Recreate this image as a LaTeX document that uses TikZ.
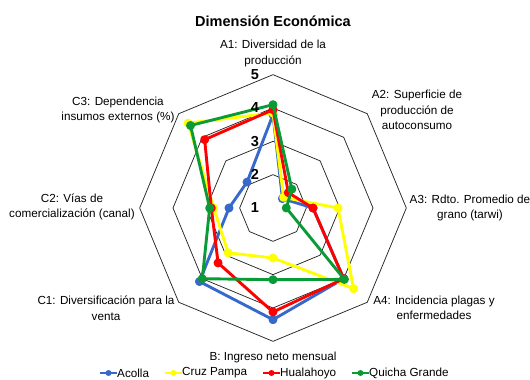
\documentclass[tikz,border=0pt]{standalone}
\usepackage{fontspec}
\setmainfont{Liberation Sans}

\definecolor{acolla}{RGB}{55,105,205}
\definecolor{cruzpampa}{RGB}{255,255,0}
\definecolor{hualahoyo}{RGB}{255,0,0}
\definecolor{quicha}{RGB}{10,155,55}

\begin{document}
\begin{tikzpicture}
	[x=1pt,y=1pt,
	axislabel/.style={font=\fontsize{11.7}{15.5}\selectfont, align=center, inner sep=0pt},
	levnum/.style={font=\fontsize{14.5}{15}\selectfont\bfseries, inner sep=0pt},
	ring/.style={black!85, line width=0.75pt},
	serie/.style={draw=#1, line width=2.9pt, line join=round, mark=*, mark size=3pt, mark options={solid, fill=#1, draw=#1}},
	legdot/.style={circle, fill=#1, inner sep=0pt, minimum size=6pt}]
	\useasboundingbox (-273,-172) rectangle (257,208);

	%title
	\node (title) [font=\fontsize{14.5}{16}\selectfont\bfseries] at (0,187) {Dimensión Económica};

	\begin{scope}[x=33.33pt,y=33.33pt]
	%rings
	\foreach \r in {1,2,3,4}
		\draw[ring] (90:\r) -- (45:\r) -- (0:\r) -- (-45:\r) -- (-90:\r) -- (-135:\r) -- (180:\r) -- (135:\r) -- cycle;

	%series: A1, A2, A3, A4, B, C1, C2, C3
	\draw[serie=acolla] plot coordinates {(90:2.8) (45:0.4) (0:1.2) (-45:3.0) (-90:3.35) (-135:3.12) (180:1.32) (135:1.1)} -- cycle;
	\draw[serie=cruzpampa] plot coordinates {(90:2.85) (45:0.45) (0:1.95) (-45:3.42) (-90:1.5) (-135:1.9) (180:1.78) (135:3.6)} -- cycle;
	\draw[serie=hualahoyo] plot coordinates {(90:2.95) (45:0.65) (0:1.2) (-45:3.0) (-90:3.12) (-135:2.33) (180:1.85) (135:2.9)} -- cycle;
	\draw[serie=quicha] plot coordinates {(90:3.1) (45:0.8) (0:0.4) (-45:3.03) (-90:2.15) (-135:3.0) (180:1.9) (135:3.5)} -- cycle;

	%level numbers
	\foreach \n in {1,...,5}
		\node[levnum] (lev\n) at ({-0.54},{\n-1}) {\n};
	\end{scope}

	%axis labels
	\node[axislabel] (A1) at (0,154.5) {A1: Diversidad de la\\producción};
	\node[axislabel] (A2) at (144,98) {A2: Superficie de\\producción de\\autoconsumo};
	\node[axislabel] (A3) at (197,0) {A3: Rdto. Promedio de\\grano (tarwi)};
	\node[axislabel] (A4) at (161,-100) {A4: Incidencia plagas y\\enfermedades};
	\node[axislabel] (B) at (0,-149) {B: Ingreso neto mensual};
	\node[axislabel] (C1) at (-167,-100) {C1: Diversificación para la\\venta};
	\node[axislabel] (C2) at (-201,1) {C2: Vías de\\comercialización (canal)};
	\node[axislabel] (C3) at (-155,98) {C3: Dependencia\\insumos externos (\%)};

	%legend
	\node[axislabel, anchor=west] (legacolla) at (-156,-165) {Acolla};
	\node[axislabel, anchor=west] (legcruz) at (-91,-165) {Cruz Pampa};
	\node[axislabel, anchor=west] (leghuala) at (7,-165) {Hualahoyo};
	\node[axislabel, anchor=west] (legquicha) at (96,-165) {Quicha Grande};
	\draw[draw=acolla, line width=2.6pt] ([xshift=-17pt]legacolla.west) -- (legacolla.west) node[midway, legdot=acolla] {};
	\draw[draw=cruzpampa, line width=2.6pt] ([xshift=-17pt]legcruz.west) -- (legcruz.west) node[midway, legdot=cruzpampa] {};
	\draw[draw=hualahoyo, line width=2.6pt] ([xshift=-17pt]leghuala.west) -- (leghuala.west) node[midway, legdot=hualahoyo] {};
	\draw[draw=quicha, line width=2.6pt] ([xshift=-17pt]legquicha.west) -- (legquicha.west) node[midway, legdot=quicha] {};
\end{tikzpicture}
\end{document}
